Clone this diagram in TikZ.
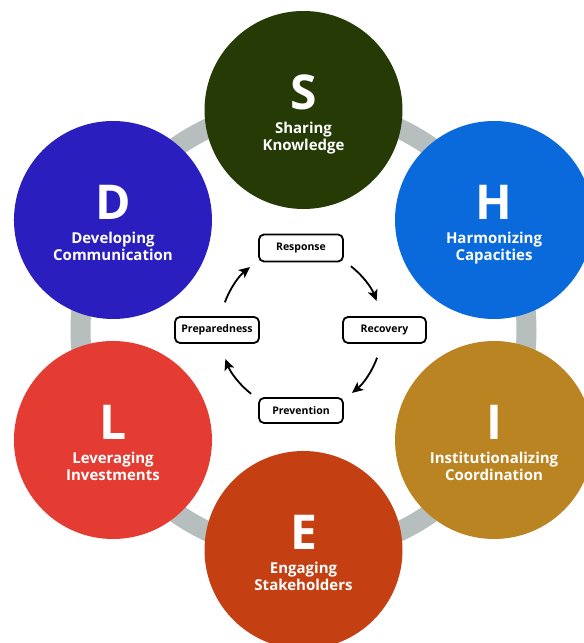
\documentclass[tikz,border=0pt]{standalone}
\usepackage{fontspec}
\setmainfont{Open Sans}
\usetikzlibrary{arrows.meta}
\definecolor{cS}{HTML}{263A05}
\definecolor{cH}{HTML}{0A6ADB}
\definecolor{cI}{HTML}{B98421}
\definecolor{cE}{HTML}{C43F12}
\definecolor{cL}{HTML}{E43C33}
\definecolor{cD}{HTML}{2A1FBE}
\definecolor{cRing}{HTML}{B6BFBE}
\begin{document}
\begin{tikzpicture}[x=1pt,y=1pt,
  pillar/.style={circle, minimum size=198pt, inner sep=0pt, draw=none},
  bigletter/.style={text=white, font=\fontsize{48}{48}\selectfont\bfseries, anchor=base, inner sep=0pt},
  lbl/.style={text=white, font=\fontsize{15}{17}\selectfont\bfseries, anchor=base, inner sep=0pt},
  ringline/.style={draw=cRing, line width=20pt},
  phase/.style={draw=black, line width=1.8pt, rounded corners=5pt, fill=white, minimum width=84pt, minimum height=26pt, inner sep=0pt, font=\fontsize{10.5}{10.5}\selectfont\bfseries},
  cycarrow/.style={line width=1.8pt, -{Stealth[length=11pt,width=10pt,inset=2.5pt]}}
]
\useasboundingbox (0,0) rectangle (584,643);
\clip (0,0) rectangle (584,643);
\fill[white] (0,0) rectangle (584,643);
\coordinate (ring) at (303.5,313);
\coordinate (cc) at (301,313);
\draw[ringline] (ring) circle[radius=223pt];
\foreach \n/\ang/\col/\a/\b in {S/90/cS/Sharing/Knowledge, H/30/cH/Harmonizing/Capacities, I/-30/cI/Institutionalizing/Coordination, E/-90/cE/Engaging/Stakeholders, L/210/cL/Leveraging/Investments, D/150/cD/Developing/Communication}
{
  \node[pillar, fill=\col] (\n) at ([shift={(\ang:220pt)}]ring) {};
  \node[bigletter] (\n-letter) at (\n.center) {\n};
  \node[lbl] (\n-one) at ([yshift=-24pt]\n.center) {\a};
  \node[lbl] (\n-two) at ([yshift=-41pt]\n.center) {\b};
}
\node[phase, minimum height=27pt] (resp) at (301,395) {Response};
\node[phase, minimum width=83pt] (reco) at (384.5,313) {Recovery};
\node[phase] (prep) at (217,313) {Preparedness};
\node[phase, minimum height=25pt] (prev) at (301,232.5) {Prevention};
\coordinate (a1) at ([shift={(52:81pt)}]cc);
\coordinate (a2) at ([shift={(-20:81pt)}]cc);
\coordinate (a3) at ([shift={(232:81pt)}]cc);
\coordinate (a4) at ([shift={(160:81pt)}]cc);
\draw[cycarrow] (a1) arc[start angle=52, end angle=21, radius=81pt];
\draw[cycarrow] (a2) arc[start angle=-20, end angle=-51, radius=81pt];
\draw[cycarrow] (a3) arc[start angle=232, end angle=201, radius=81pt];
\draw[cycarrow] (a4) arc[start angle=160, end angle=129, radius=81pt];
\end{tikzpicture}
\end{document}
